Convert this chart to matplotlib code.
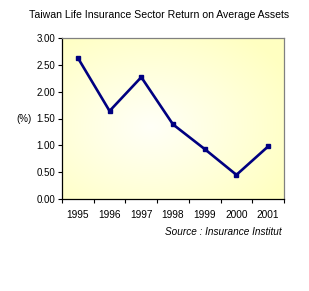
import numpy as np
import matplotlib
matplotlib.use("Agg")
from matplotlib import pyplot as plt

years = ["1995", "1996", "1997", "1998", "1999", "2000", "2001"]
roa = [2.63, 1.64, 2.27, 1.39, 0.93, 0.45, 0.98]
y_ticks = [0.0, 0.5, 1.0, 1.5, 2.0, 2.5, 3.0]

plt.rcParams['font.family'] = ['Liberation Sans', 'DejaVu Sans']

fig = plt.figure(figsize=(3.09, 2.91), dpi=100)
ax = fig.add_axes([62 / 309, 1 - 199 / 291, 222 / 309, 161 / 291])

x = np.arange(len(years))

# pale yellow gradient, lighter toward the middle
gx, gy = np.meshgrid(np.linspace(0, 1, 200), np.linspace(0, 1, 200))
d = np.sqrt(((gx - 0.4) / 0.7) ** 2 + ((gy - 0.45) / 0.7) ** 2)
d = np.clip(d, 0, 1)
edge = np.array([1.0, 1.0, 0.76])
center = np.array([1.0, 1.0, 0.97])
img = center + (edge - center) * d[..., None]
ax.imshow(img, extent=[-0.5, 6.5, 0, 3], aspect='auto', origin='lower', zorder=0)

ax.plot(x, roa, color='#000080', linewidth=1.9, marker='s', markersize=3.2, zorder=3)

ax.set_xlim(-0.5, 6.5)
ax.set_ylim(0, 3)
ax.set_yticks(y_ticks)
ax.set_yticklabels(["%.2f" % v for v in y_ticks], fontsize=7)
ax.set_xticks(x)
ax.set_xticklabels(years, fontsize=7.3)
ax.tick_params(axis='x', length=0, pad=8)
ax.set_xticks(np.arange(-0.5, 7, 1), minor=True)
ax.tick_params(axis='x', which='minor', length=3, direction='out', width=0.8)
ax.tick_params(axis='y', length=3, direction='out', width=0.8, pad=2)

ax.spines['left'].set_color('black')
ax.spines['bottom'].set_color('black')
ax.spines['top'].set_color('#808080')
ax.spines['right'].set_color('#808080')
for s in ax.spines.values():
    s.set_linewidth(0.9)

fig.text(159 / 309, 1 - 15 / 291, "Taiwan Life Insurance Sector Return on Average Assets",
         ha='center', va='center', fontsize=7.6)
fig.text(24 / 309, 1 - 119 / 291, "(%)", ha='center', va='center', fontsize=7)
fig.text(282 / 309, 1 - 232 / 291, "Source : Insurance Institut",
         ha='right', va='center', fontsize=7.2, style='italic')

plt.savefig("out.png", dpi=100)
